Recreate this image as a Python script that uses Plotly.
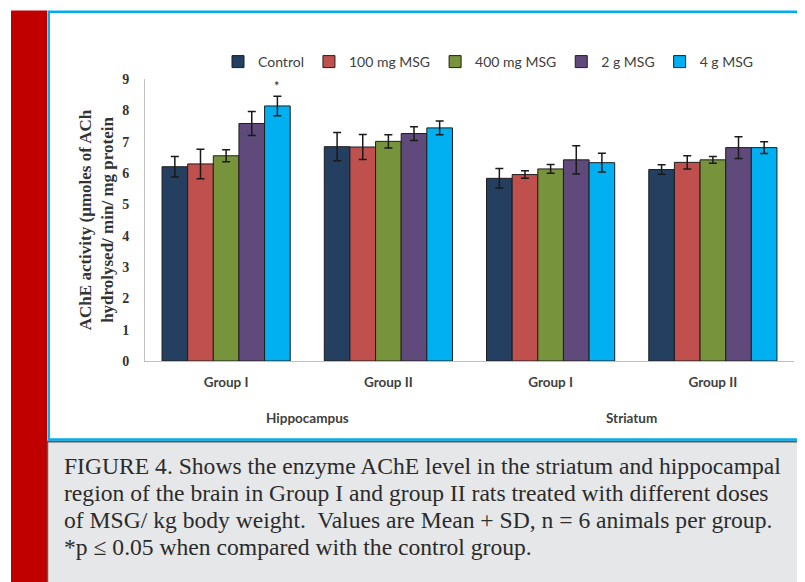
import plotly.graph_objects as go

regions = ["Hippocampus", "Hippocampus", "Striatum", "Striatum"]
groups = ["Group I", "Group II", "Group I", "Group II"]
series = ["Control", "100 mg MSG", "400 mg MSG", "2 g MSG", "4 g MSG"]
colors = ["#243f60", "#c0504d", "#77933c", "#604a7b", "#00b0f0"]

control = [6.20, 6.84, 5.83, 6.11]
mg100 = [6.29, 6.83, 5.95, 6.34]
mg400 = [6.55, 7.01, 6.13, 6.42]
g2 = [7.58, 7.26, 6.42, 6.81]
g4 = [8.14, 7.44, 6.33, 6.81]

control_sd = [0.33, 0.45, 0.31, 0.15]
mg100_sd = [0.47, 0.40, 0.12, 0.21]
mg400_sd = [0.19, 0.21, 0.14, 0.11]
g2_sd = [0.38, 0.22, 0.45, 0.35]
g4_sd = [0.31, 0.22, 0.30, 0.19]

values = [control, mg100, mg400, g2, g4]
sds = [control_sd, mg100_sd, mg400_sd, g2_sd, g4_sd]

y_title = "AChE activity (µmoles of ACh<br>hydrolysed/ min/ mg protein"
caption_lines = [
    "FIGURE 4. Shows the enzyme AChE level in the striatum and hippocampal",
    "region of the brain in Group I and group II rats treated with different doses",
    "of MSG/ kg body weight.  Values are Mean + SD, n = 6 animals per group.",
    "*p ≤ 0.05 when compared with the control group.",
]

keys = [r + " " + g for r, g in zip(regions, groups)]

OFF = 8  # page body margin
W, H = 805 - OFF, 582 - OFF
# plot area in page pixels
L, R, T, B = 145, 794, 79, 361


def px(x):
    return (x - L) / (R - L)


def py(y):
    return (B - y) / (B - T)


fig = go.Figure()
for name, col, v, e in zip(series, colors, values, sds):
    fig.add_trace(go.Bar(
        name=name,
        x=keys,
        y=v,
        marker=dict(color=col, line=dict(color="#1e1e1e", width=1)),
        error_y=dict(type="data", array=e, visible=True, color="#1a1a1a",
                     thickness=1.5, width=4),
    ))

# significance marker above 4 g MSG, Hippocampus Group I
bar_frac = 0.79
bw = bar_frac / len(series)
x_off = -bar_frac / 2 + bw * 4.5
fig.add_annotation(x=0 + x_off, y=g4[0] + g4_sd[0], xref="x", yref="y",
                   text="*", showarrow=False, yanchor="bottom", yshift=0,
                   font=dict(family="Lato", size=13, color="#222222"))

# region labels centred under each pair of groups
for i, reg in enumerate(["Hippocampus", "Striatum"]):
    fig.add_annotation(x=2 * i + 0.5, y=py(418), xref="x", yref="paper",
                       text=reg, showarrow=False, yanchor="middle",
                       font=dict(family="Lato", size=13.5, color="#404040", weight="bold"))

shapes = [
    dict(type="rect", xref="paper", yref="paper", x0=px(11), x1=px(47),
         y0=py(10.5), y1=py(600), fillcolor="#c00000", line=dict(width=0), layer="below"),
    dict(type="rect", xref="paper", yref="paper", x0=px(47), x1=px(820),
         y0=py(441.5), y1=py(600), fillcolor="#e6e7e8", line=dict(width=0), layer="below"),
    dict(type="line", xref="paper", yref="paper", x0=px(47), x1=px(820),
         y0=py(441.5), y1=py(441.5), line=dict(color="#5b5b5b", width=2)),
    dict(type="line", xref="paper", yref="paper", x0=px(47.5), x1=px(47.5),
         y0=py(441.5), y1=py(600), line=dict(color="#5b5b5b", width=1.5)),
    dict(type="rect", xref="paper", yref="paper", x0=px(48.7), x1=px(820),
         y0=py(439.5), y1=py(11.7), fillcolor="rgba(0,0,0,0)",
         line=dict(color="#00aeef", width=2.5)),
]

for i, line in enumerate(caption_lines):
    fig.add_annotation(
        xref="paper", yref="paper", x=px(62), y=py(466 + 27 * i),
        xanchor="left", yanchor="middle", align="left", showarrow=False, text=line,
        font=dict(family="Liberation Serif", size=23.6, color="#2b2b2b"),
    )

fig.update_layout(
    width=W, height=H,
    margin=dict(l=L - OFF, r=W - (R - OFF), t=T - OFF, b=H - (B - OFF)),
    paper_bgcolor="white", plot_bgcolor="white",
    barmode="group", bargap=0.21, bargroupgap=0,
    showlegend=True,
    legend=dict(orientation="h", x=px(218), y=py(62), xanchor="left", yanchor="middle",
                font=dict(family="Lato", size=14, color="#404040"),
                bgcolor="rgba(0,0,0,0)", itemwidth=30, tracegroupgap=0),
    shapes=shapes,
)

fig.update_xaxes(
    type="category", tickvals=keys, ticktext=groups,
    showline=True, linecolor="#bfbfbf", linewidth=1, showgrid=False, ticks="",
    ticklabelstandoff=9,
    tickfont=dict(family="Lato", size=13.5, color="#404040", weight="bold"),
)
fig.update_yaxes(
    range=[0, 9], dtick=1, showline=True, linecolor="#bfbfbf", linewidth=1,
    showgrid=False, zeroline=False, ticks="", ticklabelstandoff=12,
    tickfont=dict(family="Liberation Serif", size=14, color="#333333", weight="bold"),
    title=dict(text=y_title, standoff=4,
               font=dict(family="Liberation Serif", size=17, color="#333333", weight="bold")),
)

fig.write_html("out.html")
